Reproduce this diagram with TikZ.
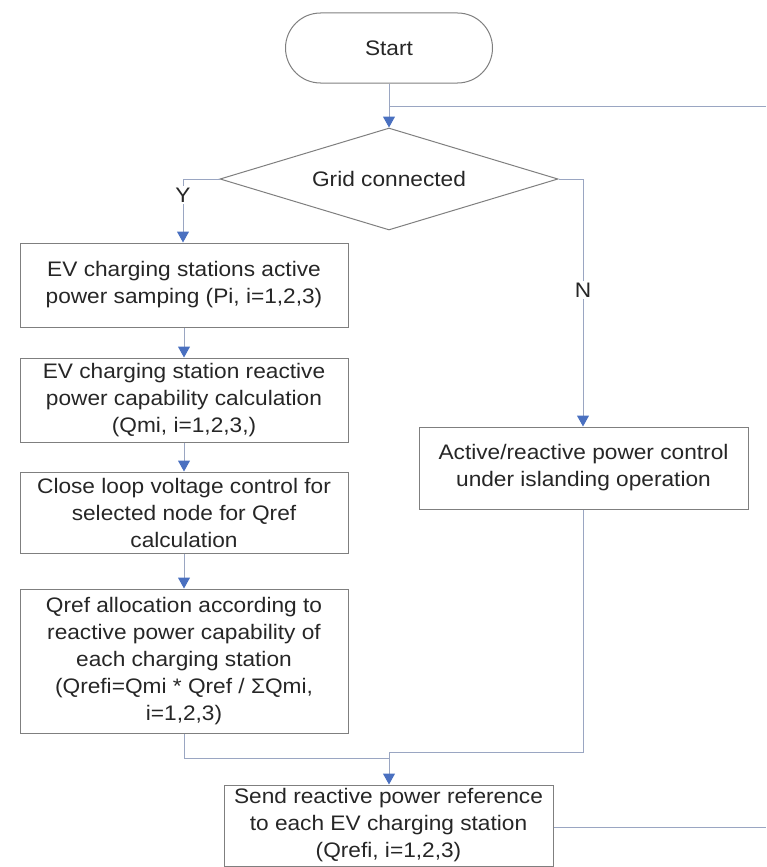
\documentclass[tikz,border=0pt]{standalone}
\usepackage{fontspec}
\setmainfont[FakeStretch=1.08]{Liberation Sans}
\usetikzlibrary{shapes.geometric,arrows.meta}
\definecolor{linec}{HTML}{9AA6C2}
\definecolor{boxc}{HTML}{7F7F7F}
\definecolor{arrc}{HTML}{4A70C0}
\definecolor{txtc}{HTML}{262626}
\begin{document}
\begin{tikzpicture}[x=1pt,y=-1pt,
  every node/.style={font=\fontsize{21}{27}\selectfont, text=txtc},
  procbox/.style={draw=boxc, line width=1pt, minimum width=328pt, inner sep=0pt, align=center},
  conn/.style={draw=linec, line width=1pt},
  arr/.style={conn, -{Triangle[length=11pt,width=12pt,fill=arrc,color=arrc]}},
  lbl/.style={fill=white, inner sep=2pt, font=\fontsize{21}{22}\selectfont}]
\useasboundingbox (0,0) rectangle (766,867);
\node[draw=boxc, line width=1pt, rounded corners=35pt, minimum width=207pt, minimum height=70pt] (start) at (389,48) {Start};
\node[draw=boxc, line width=1pt, diamond, aspect=3.31, inner sep=0pt, minimum width=338pt, minimum height=102pt] (grid) at (389,179) {Grid connected};
\node[procbox, minimum height=84pt] (b1) at (184,285) {EV charging stations active\\power samping (Pi, i=1,2,3)};
\node[procbox, minimum height=84pt] (b2) at (184,400) {EV charging station reactive\\power capability calculation\\(Qmi, i=1,2,3,)};
\node[procbox, minimum height=81pt] (b3) at (184,512.5) {Close loop voltage control for\\selected node for Qref\\calculation};
\node[procbox, minimum height=144pt] (b4) at (184,661) {Qref allocation according to\\reactive power capability of\\each charging station\\(Qrefi=Qmi * Qref / ΣQmi,\\i=1,2,3)};
\node[procbox, minimum width=329pt, minimum height=82pt] (b6) at (583.5,468) {Active/reactive power control\\under islanding operation};
\node[procbox, minimum width=329pt, minimum height=81pt] (b5) at (388.5,825.5) {Send reactive power reference\\to each EV charging station\\(Qrefi, i=1,2,3)};
\coordinate (loopT) at (766,106);
\coordinate (loopB) at (766,827);
\coordinate (jL) at (184,758);
\coordinate (jR) at (583,752);
\coordinate (jM) at (389,758);
% start to decision
\draw[arr] (start.south) -- (grid.north);
\draw[conn] (loopT) -- (389,106);
% Y branch
\draw[arr] (grid.west) -- (183,179) -- (b1.north -| 183,0);
\node[lbl] (ylab) at (183,195) {Y};
% N branch
\draw[arr] (grid.east) -- (583,179) -- (b6.north -| 583,0);
\node[lbl] (nlab) at (583,290) {N};
% left chain
\draw[arr] (b1) -- (b2);
\draw[arr] (b2) -- (b3);
\draw[arr] (b3) -- (b4);
% merge
\draw[conn] (b4.south) -- (jL) -- (jM);
\draw[conn] (b6.south -| jR) -- (jR) -- (389,752);
\draw[arr] (389,752) -- (b5.north -| 389,0);
% return
\draw[conn] (b5.east |- loopB) -- (loopB);
\end{tikzpicture}
\end{document}
